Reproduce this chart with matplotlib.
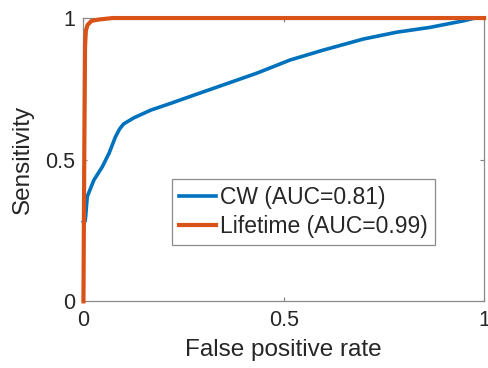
import matplotlib
matplotlib.use("Agg")
import matplotlib.pyplot as plt
import numpy as np

plt.rcParams['font.family'] = ['Liberation Sans', 'DejaVu Sans']

# ROC curves
cw_fpr = [0.0, 0.004, 0.0055, 0.0095, 0.026, 0.047, 0.064, 0.080, 0.090, 0.100,
          0.126, 0.168, 0.218, 0.268, 0.349, 0.432, 0.516, 0.599, 0.699, 0.782,
          0.865, 0.948, 0.977, 1.0]
cw_tpr = [0.28, 0.283, 0.3, 0.37, 0.428, 0.475, 0.523, 0.581, 0.608, 0.626,
          0.648, 0.675, 0.699, 0.724, 0.764, 0.805, 0.852, 0.887, 0.926, 0.950,
          0.967, 0.99, 1.0, 1.0]
lt_fpr = [0.0, 0.002, 0.004, 0.006, 0.01, 0.02, 0.04, 0.073, 1.0]
lt_tpr = [0.0, 0.5, 0.9, 0.955, 0.975, 0.99, 0.995, 1.0, 1.0]
labels = ['CW (AUC=0.81)', 'Lifetime (AUC=0.99)']
colors = ['#0072BD', '#D95319']

fig = plt.figure(figsize=(4.88, 3.68), dpi=100)
ax = fig.add_axes([0.171, 0.181, 0.821, 0.770])

ax.plot(cw_fpr, cw_tpr, color=colors[0], lw=2.6, label=labels[0], clip_on=False, zorder=3)
ax.plot(lt_fpr, lt_tpr, color=colors[1], lw=3.0, label=labels[1], clip_on=False, zorder=4)

ax.set_xlim(0, 1)
ax.set_ylim(0, 1)
ax.set_xticks([0, 0.5, 1])
ax.set_xticklabels(['0', '0.5', '1'])
ax.set_yticks([0, 0.5, 1])
ax.set_yticklabels(['0', '0.5', '1'])
ax.tick_params(direction='in', length=3, width=0.8, color='#808080',
               labelsize=15.5, labelcolor='#262626', pad=6, top=True, right=True)
for s in ax.spines.values():
    s.set_color('#8a8a8a')
    s.set_linewidth(0.9)

ax.set_xlabel('False positive rate', fontsize=17.5, color='#262626', labelpad=6)
ax.set_ylabel('Sensitivity', fontsize=17.5, color='#262626', labelpad=8)

leg = ax.legend(loc='center', bbox_to_anchor=(0.549, 0.316), fontsize=16.5,
                frameon=True, fancybox=False, edgecolor='#707070',
                handlelength=1.6, handletextpad=0.2, borderpad=0.3,
                labelspacing=0.25, borderaxespad=0)
leg.get_frame().set_linewidth(0.9)
for t in leg.get_texts():
    t.set_color('#262626')

fig.savefig('out.png', dpi=100)
